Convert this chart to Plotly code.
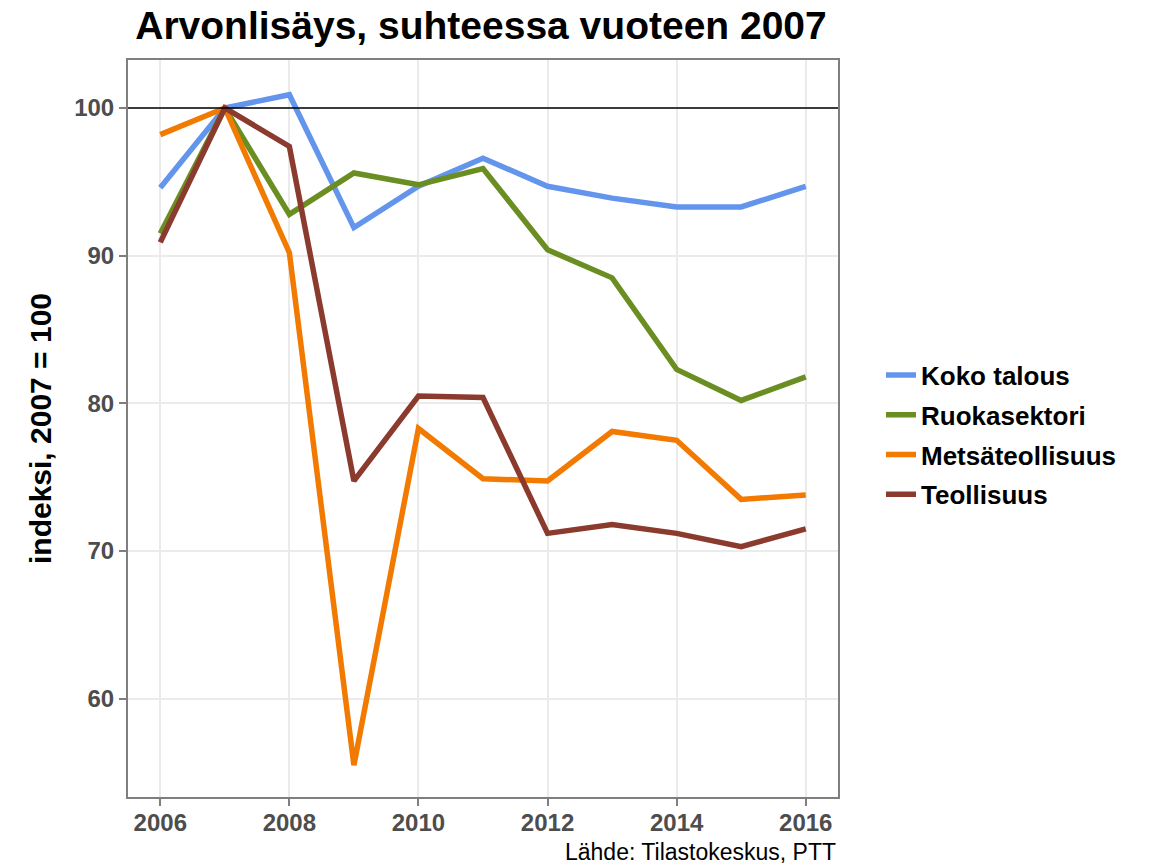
import plotly.graph_objects as go

years = [2006, 2007, 2008, 2009, 2010, 2011, 2012, 2013, 2014, 2015, 2016]
koko_talous = [94.6, 100.0, 100.9, 91.9, 94.7, 96.6, 94.7, 93.9, 93.3, 93.3, 94.7]
ruokasektori = [91.5, 100.0, 92.8, 95.6, 94.8, 95.9, 90.4, 88.5, 82.3, 80.2, 81.8]
metsateollisuus = [98.2, 100.0, 90.2, 55.5, 78.3, 74.9, 74.75, 78.1, 77.5, 73.5, 73.8]
teollisuus = [90.9, 100.0, 97.4, 74.75, 80.5, 80.4, 71.2, 71.8, 71.2, 70.3, 71.5]

series = [
    ("Koko talous", koko_talous, "#6495ED"),
    ("Ruokasektori", ruokasektori, "#6B8E23"),
    ("Metsäteollisuus", metsateollisuus, "#F27A00"),
    ("Teollisuus", teollisuus, "#8B3A2E"),
]

FONT = "Liberation Sans, Arial, Helvetica, sans-serif"

fig = go.Figure()
for name, vals, col in series:
    fig.add_trace(go.Scatter(x=years, y=vals, mode="lines", name=name, legendgroup=name,
                             line=dict(color=col, width=5.5)))

fig.add_shape(type="line", xref="paper", x0=0, x1=1, yref="y", y0=100, y1=100,
              line=dict(color="black", width=1.3), layer="above")

axis_common = dict(
    tickfont=dict(size=24, color="#4d4d4d", family=FONT, weight="bold"),
    showgrid=True, gridcolor="#ebebeb", gridwidth=1.5, zeroline=False,
    showline=True, linecolor="#7f7f7f", linewidth=2, mirror=True,
    ticks="outside", ticklen=7, tickcolor="#7f7f7f", tickwidth=2, automargin=False,
)

fig.update_layout(
    width=1154, height=864,
    margin=dict(l=128, r=316, t=60, b=67),
    paper_bgcolor="white", plot_bgcolor="white",
    font=dict(family=FONT),
    title=dict(text="Arvonlisäys, suhteessa vuoteen 2007",
               x=481 / 1154, xanchor="center",
               y=1 - 25 / 864, yanchor="middle",
               font=dict(size=39, color="black", family=FONT, weight="bold")),
    legend=dict(x=(881 - 128) / 710, xanchor="left", y=(797 - 435) / 737, yanchor="middle",
                font=dict(size=26, color="black", family=FONT, weight="bold"),
                itemwidth=30, tracegroupgap=3, bgcolor="rgba(0,0,0,0)"),
    xaxis=dict(range=[2005.5, 2016.5], tickvals=[2006, 2008, 2010, 2012, 2014, 2016],
               ticklabelstandoff=-4, **axis_common),
    yaxis=dict(range=[53.35, 103.25], tickvals=[60, 70, 80, 90, 100],
               title=dict(text="indeksi, 2007 = 100",
                          font=dict(size=30, color="black", family=FONT, weight="bold"),
                          standoff=14),
               **axis_common),
    annotations=[dict(text="Lähde: Tilastokeskus, PTT", xref="paper", yref="paper",
                      x=1, xanchor="right", y=-(852 - 797) / 737, yanchor="middle",
                      showarrow=False, font=dict(size=23, color="black", family=FONT))],
)

fig.write_html("out.html", config={"displayModeBar": False},
               post_script="document.body.style.margin='0';")
